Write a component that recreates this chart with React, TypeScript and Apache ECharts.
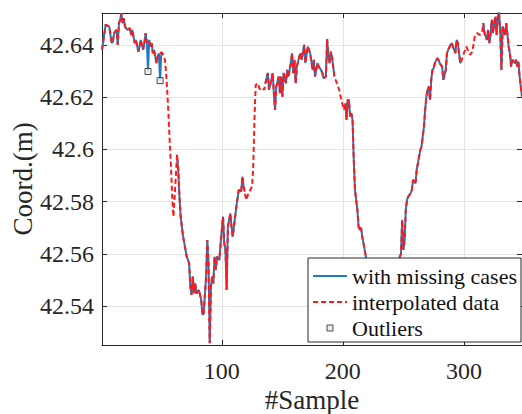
import React, { useEffect, useRef } from 'react';
import * as echarts from 'echarts';

type Pt = [number, number];

// Observed segments (blue), including the two outliers in seg1
const seg1: Pt[] = [[1,42.6381],[4,42.6477],[7,42.6470],[9,42.6407],[10,42.6413],[11,42.6445],[13,42.6457],[14,42.6400],[15,42.6483],[16,42.6496],[17,42.6521],[18,42.6483],[19,42.6502],[20,42.6470],[22,42.6457],[24,42.6464],[25,42.6438],[26,42.6457],[28,42.6407],[29,42.6419],[31,42.6374],[32,42.6393],[33,42.6419],[35,42.6381],[36,42.6407],[37,42.6445],[38,42.6413],[39,42.6298],[40,42.6419],[41,42.6393],[42,42.6407],[43,42.6368],[44,42.6381],[46,42.6330],[47,42.6355],[48,42.6368],[49,42.6263],[50,42.6371],[51,42.6368]];
const seg2: Pt[] = [[63,42.5979],[64,42.5921],[65,42.5819],[66,42.5742],[67,42.5704],[68,42.5666],[69,42.5641],[71,42.5589],[73,42.5564],[74,42.5474],[75,42.5443],[76,42.5513],[77,42.5449],[78,42.5487],[79,42.5449],[80,42.5455],[81,42.5462],[83,42.5423],[84,42.5366],[85,42.5372],[87,42.5513],[88,42.5653],[89,42.5564],[90,42.5258],[91,42.5474],[92,42.5513],[93,42.5487],[94,42.5589],[95,42.5538],[96,42.5589],[98,42.5577],[99,42.5641],[101,42.5742],[102,42.5641],[103,42.5615],[104,42.5462],[105,42.5704],[107,42.5755],[108,42.5704],[109,42.5666],[111,42.5742],[112,42.5781],[114,42.5845],[116,42.5838],[117,42.5896],[118,42.5857],[119,42.5838]];
const seg3: Pt[] = [[136,42.6253],[138,42.6292],[139,42.6228],[140,42.6247],[142,42.6292],[143,42.6215],[144,42.6151],[145,42.6240],[147,42.6279],[148,42.6215],[149,42.6279],[150,42.6202],[151,42.6292],[153,42.6253],[154,42.6304],[155,42.6279],[157,42.6330],[158,42.6368],[159,42.6292],[160,42.6343],[161,42.6253],[162,42.6317],[164,42.6355],[165,42.6368],[166,42.6343],[168,42.6400],[169,42.6330],[171,42.6393],[172,42.6381],[173,42.6368],[175,42.6304],[176,42.6343],[177,42.6279],[179,42.6330],[180,42.6317],[182,42.6304],[183,42.6292],[184,42.6272],[186,42.6279],[187,42.6422],[188,42.6355],[189,42.6330],[190,42.6374],[191,42.6355],[193,42.6279]];
const seg4: Pt[] = [[202,42.6177],[203,42.6113],[204,42.6189],[205,42.6189],[206,42.6125],[207,42.6138],[208,42.6113],[209,42.5960],[210,42.5845],[212,42.5768],[213,42.5704],[214,42.5691],[215,42.5700],[216,42.5666],[217,42.5641],[218,42.5615],[219,42.5589],[221,42.5530],[224,42.5470],[228,42.5410],[232,42.5380],[236,42.5370],[240,42.5400],[244,42.5470],[246,42.5530],[247,42.5589],[248,42.5600],[249,42.5730],[250,42.5615],[251,42.5653],[252,42.5768],[253,42.5806],[254,42.5819],[256,42.5832],[257,42.5845],[258,42.5883],[260,42.5870],[261,42.5921],[263,42.5972],[264,42.5998],[265,42.6010],[266,42.6049],[267,42.6087],[268,42.6151],[269,42.6202],[270,42.6228],[271,42.6240],[272,42.6189],[273,42.6266],[274,42.6304],[275,42.6311],[276,42.6330],[278,42.6349],[279,42.6343],[280,42.6330],[282,42.6317],[283,42.6266],[285,42.6304],[286,42.6368],[287,42.6381],[289,42.6400],[290,42.6407],[291,42.6393],[293,42.6368],[294,42.6419],[295,42.6407],[297,42.6330],[298,42.6340]];
const seg5: Pt[] = [[316,42.6483],[317,42.6445],[319,42.6419],[320,42.6457],[321,42.6407],[322,42.6438],[323,42.6496],[324,42.6445],[325,42.6483],[326,42.6508],[327,42.6438],[328,42.6508],[329,42.6524],[330,42.6457],[331,42.6304],[332,42.6470],[334,42.6438],[335,42.6483],[337,42.6393],[338,42.6368],[339,42.6317],[340,42.6343],[342,42.6330],[343,42.6343],[344,42.6317],[345,42.6336],[346,42.6279],[348,42.6202]];

// Interpolated values filling the missing stretches (red dashed only)
const gap1: Pt[] = [[53,42.6343],[54,42.6292],[55,42.6215],[56,42.6125],[57,42.6024],[58,42.5934],[59,42.5819],[60,42.5742],[62,42.5896]];
const gap2: Pt[] = [[120,42.5806],[122,42.5832],[125,42.5857],[126,42.5940],[127,42.6120],[128,42.6247],[130,42.6253],[131,42.6234],[132,42.6228],[134,42.6234],[135,42.6228]];
const gap3: Pt[] = [[194,42.6266],[197,42.6228],[199,42.6183],[201,42.6151]];
const gap4: Pt[] = [[300,42.6368],[302,42.6393],[305,42.6362],[307,42.6374],[309,42.6432],[311,42.6445],[313,42.6438],[315,42.6445]];

// Outliers and their corrected values
const outliers: Pt[] = [[39,42.6298],[49,42.6263]];
const outlierFixes: Pt[] = [[39,42.6410],[49,42.6368]];

const xMin = 1;
const xMax = 348;
const yMin = 42.5251;
const yMax = 42.6522;

const FONT = 'Liberation Serif';
const AXIS = '#262626';
const BLUE = '#1f7ac2';
const RED = '#ff1a1a';

export default function App() {
  const ref = useRef<HTMLDivElement>(null);
  useEffect(() => {
    if (!ref.current) return;
    const chart = echarts.init(ref.current, null, { renderer: 'svg' });
    const segs = [seg1, seg2, seg3, seg4, seg5];
    const gaps = [gap1, gap2, gap3, gap4];
    const fix = new Map(outlierFixes.map(([x, y]) => [x, y]));
    const observed: (number | null)[][] = [];
    segs.forEach((s, i) => {
      if (i > 0) observed.push([s[0][0] - 0.5, null]);
      s.forEach((p) => observed.push([p[0], p[1]]));
    });
    const interpolated: number[][] = [];
    segs.forEach((s, i) => {
      s.forEach((p) => interpolated.push([p[0], fix.has(p[0]) ? (fix.get(p[0]) as number) : p[1]]));
      if (i < gaps.length) gaps[i].forEach((p) => interpolated.push([p[0], p[1]]));
    });

    const axisLine = { show: true, onZero: false, lineStyle: { color: AXIS, width: 1 } };
    const axisTick = { show: true, inside: true, length: 5, lineStyle: { color: AXIS, width: 1 } };
    const splitLine = { show: true, lineStyle: { color: '#e4e4e4', width: 1 } };
    const label = { fontFamily: FONT, fontSize: 24, color: AXIS };
    const hiddenDot = { color: 'rgba(0,0,0,0)', opacity: 0, borderWidth: 0 };

    chart.setOption({
      animation: false,
      backgroundColor: '#fff',
      grid: { left: 102, right: 0, top: 13, bottom: 69, outerBoundsMode: 'none', containLabel: false },
      xAxis: [
        {
          type: 'value', min: xMin, max: xMax, splitNumber: 3, position: 'bottom',
          axisLine, axisTick, splitLine,
          axisLabel: { ...label, margin: 14, showMinLabel: false, showMaxLabel: false },
          name: '#Sample', nameLocation: 'middle', nameGap: 41, nameMoveOverlap: false,
          nameTextStyle: { fontFamily: FONT, fontSize: 27, color: AXIS },
        },
        {
          type: 'value', min: xMin, max: xMax, splitNumber: 3, position: 'top',
          axisLine, axisTick, splitLine: { show: false }, axisLabel: { show: false },
        },
      ],
      yAxis: [
        {
          type: 'value', min: yMin, max: yMax, splitNumber: 6, position: 'left',
          axisLine, axisTick, splitLine,
          axisLabel: { ...label, margin: 8, showMinLabel: false, showMaxLabel: false },
          name: 'Coord.(m)', nameLocation: 'middle', nameGap: 66, nameRotate: 90, nameMoveOverlap: false,
          nameTextStyle: { fontFamily: FONT, fontSize: 27, color: AXIS },
        },
        {
          type: 'value', min: yMin, max: yMax, splitNumber: 6, position: 'right',
          axisLine, axisTick, splitLine: { show: false }, axisLabel: { show: false },
        },
      ],
      legend: {
        orient: 'vertical', left: 308, top: 258,
        itemWidth: 34, itemHeight: 6, itemGap: 0,
        padding: [5, 4, 1, 4],
        symbolKeepAspect: true,
        backgroundColor: '#fff', borderColor: AXIS, borderWidth: 1, borderRadius: 0,
        selectedMode: false,
        textStyle: { fontFamily: FONT, fontSize: 22, color: '#111', lineHeight: 26 },
        data: [
          { name: 'with missing cases', itemStyle: hiddenDot },
          { name: 'interpolated data', itemStyle: hiddenDot },
          {
            name: 'Outliers', icon: 'path://M0,0L10,0L10,10L0,10Z',
            itemStyle: { color: '#eeeeee', borderColor: '#222', borderWidth: 1 },
          },
        ],
      },
      series: [
        {
          name: 'with missing cases', type: 'line', data: observed,
          symbol: 'none', showSymbol: false, connectNulls: false,
          lineStyle: { color: BLUE, width: 2 }, itemStyle: { color: BLUE },
          z: 2,
        },
        {
          name: 'interpolated data', type: 'line', data: interpolated,
          symbol: 'none', showSymbol: false,
          lineStyle: { color: RED, width: 2, type: [5, 3] }, itemStyle: { color: RED },
          z: 3,
        },
        {
          name: 'Outliers', type: 'scatter', data: outliers,
          symbol: 'rect', symbolSize: 6,
          itemStyle: { color: '#eeeeee', borderColor: '#222', borderWidth: 1 },
          z: 4,
        },
      ],
    });
    return () => chart.dispose();
  }, []);
  return <div ref={ref} style={{ position: 'absolute', left: 0, top: 0, width: 522, height: 414 }} />;
}
